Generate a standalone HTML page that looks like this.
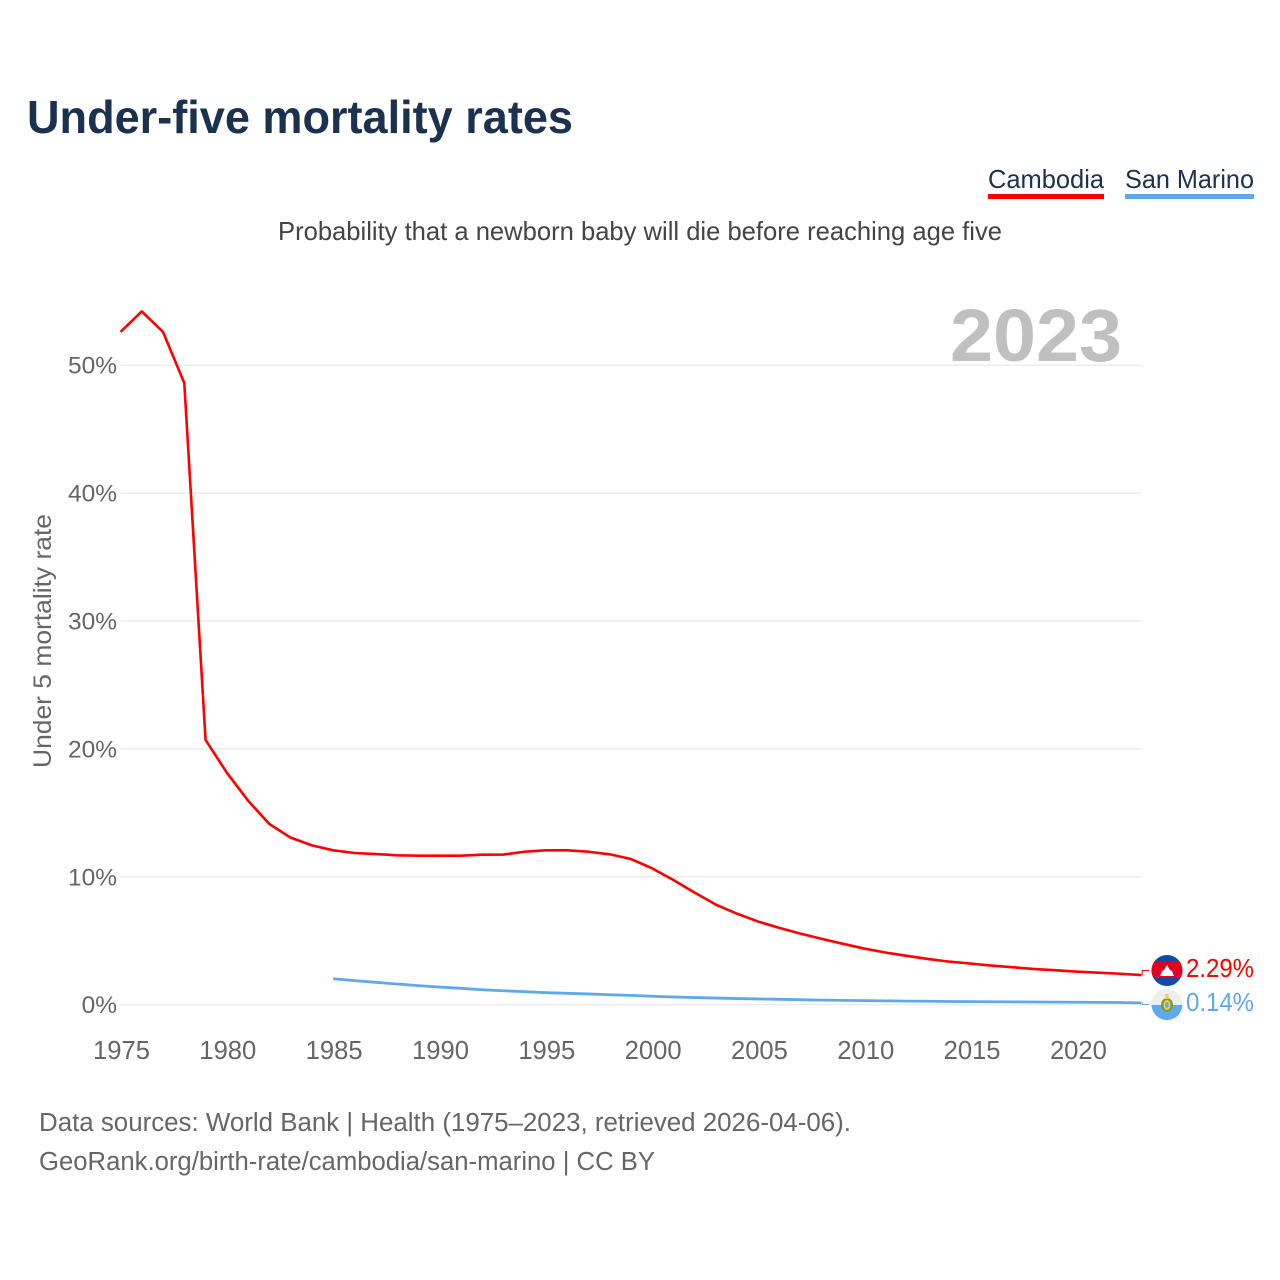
<!DOCTYPE html>
<html lang="en">
<head>
<meta charset="utf-8">
<title>Under-five mortality rates</title>
<style>
html,body{margin:0;padding:0;background:#fff;width:1280px;height:1280px;overflow:hidden}
svg{display:block}
text{font-family:"Liberation Sans",sans-serif}
</style>
</head>
<body>
<svg id="chart" xmlns="http://www.w3.org/2000/svg" width="1280" height="1280" viewBox="0 0 1280 1280">
  <defs>
    <clipPath id="clip-kh"><circle cx="1167" cy="970.5" r="15.5"/></clipPath>
    <clipPath id="clip-sm"><circle cx="1167" cy="1004.5" r="15.5"/></clipPath>
  </defs>
  <rect width="1280" height="1280" fill="#fff"/>
  <text x="27" y="133" font-size="46" font-weight="700" fill="#1a3150" textLength="546" lengthAdjust="spacingAndGlyphs">Under-five mortality rates</text>

  <g>
    <text x="988" y="188" font-size="26" fill="#1a3150" textLength="116" lengthAdjust="spacingAndGlyphs">Cambodia</text>
    <rect x="988" y="194" width="116" height="5" fill="#ff0000"/>
  </g>
  <g>
    <text x="1125" y="188" font-size="26" fill="#1a3150" textLength="129" lengthAdjust="spacingAndGlyphs">San Marino</text>
    <rect x="1125" y="194" width="129" height="5" fill="#5fa8ec"/>
  </g>

  <text x="278" y="240" font-size="26" fill="#444" textLength="724" lengthAdjust="spacingAndGlyphs">Probability that a newborn baby will die before reaching age five</text>

  <g id="grid"></g>
  <g id="yticks"></g>
  <g id="xticks"></g>

  <text x="950" y="361" font-size="74" font-weight="700" fill="#c0c0c0" textLength="172" lengthAdjust="spacingAndGlyphs">2023</text>

  <text transform="translate(51,768) rotate(-90)" x="0" y="0" font-size="25" fill="#666" textLength="254" lengthAdjust="spacingAndGlyphs">Under 5 mortality rate</text>

  <g id="series"></g>

  <g clip-path="url(#clip-kh)">
    <rect x="1151" y="955" width="32" height="31" fill="#0b4ea2"/>
    <rect x="1151" y="962" width="32" height="16" fill="#e00025"/>
    <path d="M1160 976 L1162 971 L1164 970 L1167 965 L1170 970 L1172 971 L1174 976 Z" fill="#fff"/>
  </g>
  <g clip-path="url(#clip-sm)">
    <rect x="1151" y="989" width="32" height="16" fill="#eeeeee"/>
    <rect x="1151" y="1005" width="32" height="16" fill="#5eaaee"/>
    <ellipse cx="1167" cy="1005" rx="6" ry="7" fill="#7f9a3c"/>
    <ellipse cx="1167" cy="1005" rx="3.5" ry="5" fill="#f3d23c"/>
    <ellipse cx="1167" cy="1005" rx="1.8" ry="3" fill="#5eaaee"/>
    <rect x="1165.5" y="994" width="3" height="5" fill="#f3d23c"/>
  </g>

  <text x="1186" y="977" font-size="25.5" fill="#ff0000" textLength="68" lengthAdjust="spacingAndGlyphs">2.29%</text>
  <text x="1186" y="1011" font-size="25.5" fill="#5fa8ec" textLength="68" lengthAdjust="spacingAndGlyphs">0.14%</text>

  <text x="39" y="1131" font-size="25.5" fill="#666" textLength="812" lengthAdjust="spacingAndGlyphs">Data sources: World Bank | Health (1975–2023, retrieved 2026-04-06).</text>
  <text x="39" y="1170" font-size="25.5" fill="#666" textLength="616" lengthAdjust="spacingAndGlyphs">GeoRank.org/birth-rate/cambodia/san-marino | CC BY</text>
</svg>
<script>
const yearStart = 1975;
const yearEnd = 2023;
const xTickYears = [1975, 1980, 1985, 1990, 1995, 2000, 2005, 2010, 2015, 2020];
const yTickValues = [0, 10, 20, 30, 40, 50];
const cambodiaValues = [52.6, 54.2, 52.6, 48.6, 20.7, 18.14, 15.95, 14.13, 13.06, 12.46, 12.07, 11.86, 11.78, 11.68, 11.65, 11.65, 11.65, 11.73, 11.74, 11.96, 12.07, 12.07, 11.96, 11.76, 11.39, 10.66, 9.75, 8.76, 7.82, 7.11, 6.49, 6.0, 5.55, 5.14, 4.75, 4.38, 4.07, 3.81, 3.57, 3.36, 3.21, 3.05, 2.92, 2.79, 2.69, 2.58, 2.5, 2.42, 2.32];
const sanMarinoStartYear = 1985;
const sanMarinoValues = [2.03, 1.88, 1.75, 1.62, 1.49, 1.38, 1.28, 1.17, 1.09, 1.02, 0.94, 0.89, 0.84, 0.78, 0.73, 0.66, 0.6, 0.56, 0.52, 0.48, 0.45, 0.42, 0.39, 0.36, 0.34, 0.32, 0.3, 0.28, 0.27, 0.25, 0.24, 0.23, 0.22, 0.21, 0.2, 0.19, 0.18, 0.17, 0.14];

const NS = 'http://www.w3.org/2000/svg';
function xPos(year) { return 120.5 + (year - yearStart) * (1141.2 - 120.5) / (yearEnd - yearStart); }
function yPos(value) { return 1004.7 - value * 12.79; }

const grid = document.getElementById('grid');
const yticks = document.getElementById('yticks');
const xticks = document.getElementById('xticks');
const series = document.getElementById('series');

yTickValues.forEach(function (v) {
  const line = document.createElementNS(NS, 'line');
  
  
  line.setAttribute('x1', xPos(yearStart));
  line.setAttribute('x2', xPos(yearEnd));
  line.setAttribute('y1', yPos(v));
  line.setAttribute('y2', yPos(v));
  line.setAttribute('stroke', '#ececec');
  line.setAttribute('stroke-width', '1.5');
  grid.appendChild(line);

  const t = document.createElementNS(NS, 'text');
  
  
  t.setAttribute('x', 117);
  t.setAttribute('y', yPos(v) + 8.5);
  t.setAttribute('text-anchor', 'end');
  t.setAttribute('font-size', '24.5');
  t.setAttribute('fill', '#666');
  t.textContent = v + '%';
  yticks.appendChild(t);
});

xTickYears.forEach(function (y) {
  const t = document.createElementNS(NS, 'text');
  
  
  t.setAttribute('x', xPos(y) + 1);
  t.setAttribute('y', 1059);
  t.setAttribute('text-anchor', 'middle');
  t.setAttribute('font-size', '25.6');
  t.setAttribute('fill', '#666');
  t.textContent = String(y);
  xticks.appendChild(t);
});

function linePoints(values, startYear) {
  return values.map(function (v, i) {
    return xPos(startYear + i).toFixed(2) + ',' + yPos(v).toFixed(2);
  }).join(' ');
}

const lineKh = document.createElementNS(NS, 'polyline');


lineKh.setAttribute('points', linePoints(cambodiaValues, yearStart));
lineKh.setAttribute('fill', 'none');
lineKh.setAttribute('stroke', '#ff0000');
lineKh.setAttribute('stroke-width', '2.6');
lineKh.setAttribute('stroke-linejoin', 'round');
series.appendChild(lineKh);

const lineSm = document.createElementNS(NS, 'polyline');


lineSm.setAttribute('points', linePoints(sanMarinoValues, sanMarinoStartYear));
lineSm.setAttribute('fill', 'none');
lineSm.setAttribute('stroke', '#5fa8ec');
lineSm.setAttribute('stroke-width', '2.8');
lineSm.setAttribute('stroke-linejoin', 'round');
series.appendChild(lineSm);

function connector(lastValue, labelY, color) {
  const c = document.createElementNS(NS, 'polyline');
  const ex = xPos(yearEnd);
  c.setAttribute('points', ex + ',' + yPos(lastValue) + ' ' + (ex + 1) + ',' + yPos(lastValue) + ' ' + (ex + 1) + ',' + labelY + ' ' + (ex + 8) + ',' + labelY);
  c.setAttribute('fill', 'none');
  c.setAttribute('stroke', color);
  c.setAttribute('stroke-width', '1');
  return c;
}
const connKh = connector(cambodiaValues[cambodiaValues.length - 1], 970.5, '#ff0000');


series.appendChild(connKh);
const connSm = connector(sanMarinoValues[sanMarinoValues.length - 1], 1004.5, '#5fa8ec');


series.appendChild(connSm);
</script>
</body>
</html>
